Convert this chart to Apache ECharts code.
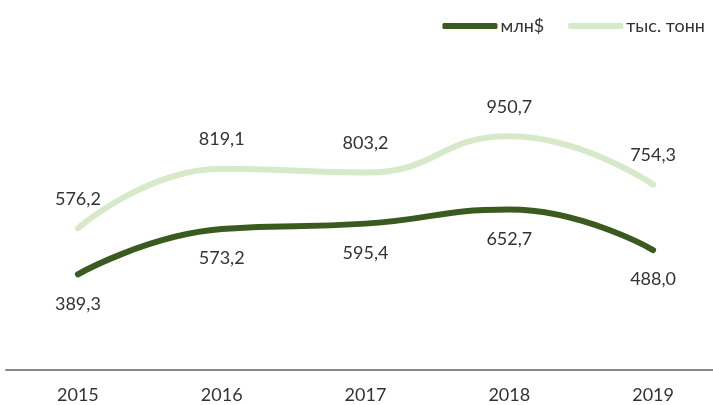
<!DOCTYPE html>
<html>
<head>
<meta charset="utf-8">
<script src="https://cdn.jsdelivr.net/npm/echarts@6/dist/echarts.min.js"></script>
<style>
  html, body { margin: 0; padding: 0; background: #fff; }
  #root { width: 713px; height: 405px; }
</style>
</head>
<body>
<div id="root"></div>
<script>
var years = ['2015', '2016', '2017', '2018', '2019']
var usdMln = [389.3, 573.2, 595.4, 652.7, 488.0]
var kTonnes = [576.2, 819.1, 803.2, 950.7, 754.3]

var fmt = function (p) { return p.value.toFixed(1).replace('.', ',') }
var font = 'Lato, "Noto Sans", sans-serif'

var chart = echarts.init(document.getElementById('root'))
chart.setOption({
  animation: false,
  textStyle: { fontFamily: font },
  legend: {
    right: 3,
    top: 12,
    itemWidth: 55,
    itemHeight: 6,
    itemGap: 24,
    textStyle: { fontSize: 18, color: '#333', fontFamily: font, padding: [0, 0, 0, -2] },
    data: [
      { name: 'млн$', icon: 'roundRect' },
      { name: 'тыс. тонн', icon: 'roundRect' }
    ]
  },
  grid: { left: 6, width: 719, top: 75, bottom: 35, outerBoundsMode: 'none', containLabel: false },
  xAxis: {
    type: 'category',
    data: years,
    boundaryGap: true,
    axisLine: { lineStyle: { color: '#888', width: 2 } },
    axisTick: { show: false },
    axisLabel: { fontSize: 18, color: '#333', margin: 16 }
  },
  yAxis: {
    type: 'value',
    min: 0,
    max: 1200,
    show: false,
    splitLine: { show: false }
  },
  series: [
    {
      name: 'млн$',
      type: 'line',
      data: usdMln,
      smooth: 0.5,
      symbol: 'circle',
      symbolSize: 1,
      showSymbol: true,
      lineStyle: { color: '#3b5a1f', width: 6, cap: 'round' },
      itemStyle: { color: '#3b5a1f' },
      label: { show: true, position: 'bottom', distance: 20, fontSize: 18, color: '#333', formatter: fmt }
    },
    {
      name: 'тыс. тонн',
      type: 'line',
      data: kTonnes,
      smooth: 0.5,
      symbol: 'circle',
      symbolSize: 1,
      showSymbol: true,
      lineStyle: { color: '#d6e9c9', width: 6, cap: 'round' },
      itemStyle: { color: '#d6e9c9' },
      label: { show: true, position: 'top', distance: 20, fontSize: 18, color: '#333', formatter: fmt }
    }
  ]
})
</script>
</body>
</html>
